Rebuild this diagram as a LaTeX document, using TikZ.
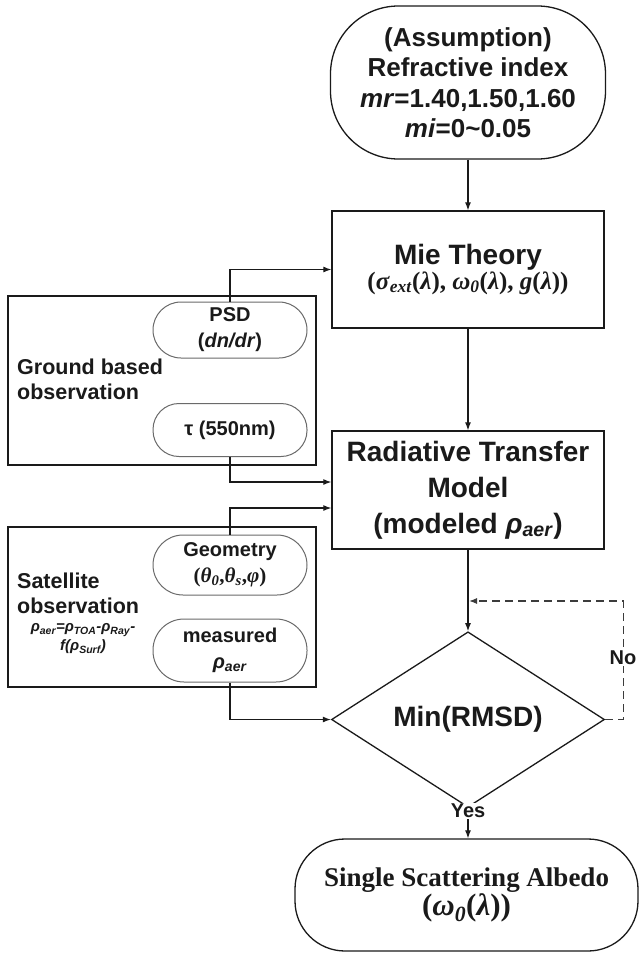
\documentclass[tikz,border=0pt]{standalone}
\usepackage{fontspec}
\setmainfont{Liberation Sans}
\newfontfamily\tms{Liberation Serif}
\usetikzlibrary{arrows.meta,shapes.geometric}
\definecolor{ink}{HTML}{1A1A1A}
\definecolor{pillline}{HTML}{6A6A6A}
\tikzset{
  mainbox/.style={draw=ink, line width=1.3pt, fill=white, align=center, inner sep=0pt, text=ink},
  grpbox/.style={draw=ink, line width=1.3pt, inner sep=0pt},
  pillbox/.style={draw=pillline, line width=1pt, fill=white, align=center, inner sep=0pt,
    minimum width=154pt, text=ink, font=\fontsize{20}{26}\selectfont\bfseries},
  sidelabel/.style={align=left, anchor=west, inner sep=0pt, text=ink,
    font=\fontsize{21.5}{25}\selectfont\bfseries},
  arr/.style={line width=1.2pt, draw=ink, -{Latex[length=8pt,width=6pt]}},
  lbl/.style={fill=white, inner sep=1pt, text=ink, font=\fontsize{20}{24}\selectfont\bfseries}
}
\begin{document}
\begin{tikzpicture}[x=1pt,y=-1pt]
\useasboundingbox (0,0) rectangle (639,954);

% top assumption box
\node[mainbox, rounded corners=68pt, minimum width=275pt, minimum height=153pt,
  font=\fontsize{26}{30.5}\selectfont\bfseries] (assum) at (468,82.5)
  {(Assumption)\\Refractive index\\\textit{mr}=1.40,1.50,1.60\\\textit{mi}=0\textasciitilde0.05};

% Mie theory
\node[mainbox, minimum width=272pt, minimum height=117pt, font=\bfseries] (mie) at (468,269.5)
  {\fontsize{28}{37}\selectfont Mie Theory\\
   \tms\fontsize{25}{37}\selectfont(\textit{σ}\textsubscript{\textit{ext}}(\textit{λ}), \textit{ω}\textsubscript{\textit{0}}(\textit{λ}), \textit{g}(\textit{λ}))};

% Radiative transfer model
\node[mainbox, minimum width=272pt, minimum height=118pt,
  font=\fontsize{28}{36}\selectfont\bfseries] (rtm) at (468,490)
  {Radiative Transfer\\Model\\(modeled \textit{ρ}\textsubscript{\textit{aer}})};

% ground based group
\node[grpbox, minimum width=308pt, minimum height=169pt] (ground) at (162,380.5) {};
\node[sidelabel] (gbl) at (17,379) {Ground based\\observation};
\node[pillbox, rounded corners=28pt, minimum height=56pt] (psd) at (230,330)
  {PSD\\(\textit{dn/dr})};
\node[pillbox, rounded corners=26pt, minimum height=53pt] (tau) at (230,430)
  {τ (550nm)};

% satellite group
\node[grpbox, minimum width=308pt, minimum height=160pt] (sat) at (162,607) {};
\node[sidelabel] (satl) at (17,593) {Satellite\\observation};
\node[align=center, inner sep=0pt, text=ink, font=\fontsize{15}{19}\selectfont\bfseries\itshape]
  (form) at (83,639) {ρ\textsubscript{aer}=ρ\textsubscript{TOA}-ρ\textsubscript{Ray}-\\f(ρ\textsubscript{Surf})};
\node[pillbox, rounded corners=30pt, minimum height=60pt] (geo) at (230,565)
  {Geometry\\{\tms\fontsize{21}{26}\selectfont(\textit{θ}\textsubscript{\textit{0}},\textit{θ}\textsubscript{\textit{s}},\textit{φ})}};
\node[pillbox, rounded corners=31pt, minimum height=63pt] (meas) at (230,650.5)
  {measured\\\textit{ρ}\textsubscript{\textit{aer}}};

% decision
\node[draw=ink, line width=1.3pt, diamond, minimum width=273pt, minimum height=135pt,
  inner sep=0pt, text=ink, font=\fontsize{28}{34}\selectfont\bfseries] (dia) at (468,719.5) {Min(RMSD)};

% final result
\node[mainbox, rounded corners=50pt, minimum width=343pt, minimum height=112pt,
  font=\tms\bfseries] (final) at (466.5,895)
  {\fontsize{27}{42}\selectfont Single Scattering Albedo\\
   \fontsize{31}{42}\selectfont(\textit{ω}\textsubscript{\textit{0}}(\textit{λ}))};

% connectors
\draw[arr] (assum.south) -- (mie.north);
\draw[arr] (psd.north) |- (mie.west);
\draw[arr] (mie.south) -- (rtm.north);
\draw[arr] (tau.south) |- ([yshift=8pt]rtm.west);
\draw[arr] (geo.north) |- ([yshift=-18pt]rtm.west);
\draw[arr] (rtm.south) -- (dia.north);
\draw[arr] (meas.south) |- (dia.west);
\coordinate (loopin) at (469,601);
\draw[line width=1.2pt, draw=ink!85, dash pattern=on 8pt off 5pt, -{Latex[length=8pt,width=6pt]}]
  (dia.east) -- ++(18,0) coordinate (noturn) |- (loopin);
\node[lbl] (no) at (623,658) {No};
\draw[arr] (dia.south) -- (dia.south |- final.north);
\node[lbl] (yes) at (468,811) {Yes};
\end{tikzpicture}
\end{document}
